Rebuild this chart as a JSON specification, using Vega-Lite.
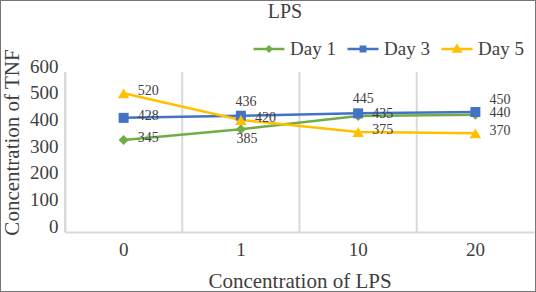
{
  "$schema": "https://vega.github.io/schema/vega-lite/v6.json",
  "width": 536,
  "height": 292,
  "autosize": {"type": "none"},
  "padding": 0,
  "background": "white",
  "config": {
    "view": {"stroke": "#767676", "strokeWidth": 2},
    "font": "Liberation Serif"
  },
  "title": {
    "text": "LPS",
    "font": "Liberation Serif",
    "fontSize": 20,
    "fontWeight": "normal",
    "color": "#404040",
    "anchor": "middle",
    "dx": 17,
    "dy": 18,
    "offset": -20,
    "baseline": "alphabetic"
  },
  "data": {
    "values": [
      {"cat": "0", "series": "Day 1", "value": 345},
      {"cat": "1", "series": "Day 1", "value": 385},
      {"cat": "10", "series": "Day 1", "value": 435},
      {"cat": "20", "series": "Day 1", "value": 440},
      {"cat": "0", "series": "Day 3", "value": 428},
      {"cat": "1", "series": "Day 3", "value": 436},
      {"cat": "10", "series": "Day 3", "value": 445},
      {"cat": "20", "series": "Day 3", "value": 450},
      {"cat": "0", "series": "Day 5", "value": 520},
      {"cat": "1", "series": "Day 5", "value": 420},
      {"cat": "10", "series": "Day 5", "value": 375},
      {"cat": "20", "series": "Day 5", "value": 370}
    ]
  },
  "encoding": {
    "x": {
      "field": "cat",
      "type": "ordinal",
      "sort": ["0", "1", "10", "20"],
      "scale": {"type": "band", "range": [65, 534], "paddingInner": 0, "paddingOuter": 0},
      "axis": {
        "title": "Concentration of LPS",
        "titleFont": "Liberation Serif",
        "titleFontSize": 21,
        "titleFontWeight": "normal",
        "titleColor": "#404040",
        "titleY": 55,
        "titleBaseline": "alphabetic",
        "labelFont": "Liberation Serif",
        "labelFontSize": 19,
        "labelColor": "#404040",
        "labelAngle": 0,
        "labelBaseline": "alphabetic",
        "labelPadding": 23,
        "ticks": false,
        "tickSize": 0,
        "domain": true,
        "domainColor": "#d9d9d9",
        "domainWidth": 2,
        "grid": false,
        "offset": -60
      }
    },
    "y": {
      "field": "value",
      "type": "quantitative",
      "scale": {"domain": [0, 600], "range": [232, 72], "nice": false, "zero": true},
      "axis": {
        "title": "Concentration of TNF",
        "values": [0, 100, 200, 300, 400, 500, 600],
        "titleFont": "Liberation Serif",
        "titleFontSize": 21,
        "titleFontWeight": "normal",
        "titleColor": "#404040",
        "titleX": -47,
        "titleY": 142,
        "titleAngle": 270,
        "titleAlign": "center",
        "titleBaseline": "alphabetic",
        "labelFont": "Liberation Serif",
        "labelFontSize": 19,
        "labelColor": "#404040",
        "labelPadding": 7,
        "labelOffset": -6,
        "labelFlush": false,
        "labelOverlap": false,
        "ticks": false,
        "tickSize": 0,
        "domain": true,
        "domainColor": "#d9d9d9",
        "domainWidth": 2,
        "grid": false,
        "offset": -65
      }
    }
  },
  "layer": [
    {
      "transform": [{"filter": "datum.series == 'Day 1'"}],
      "mark": {"type": "rule", "color": "#d9d9d9", "strokeWidth": 2},
      "encoding": {
        "x": {"field": "cat", "type": "ordinal", "sort": ["0", "1", "10", "20"], "bandPosition": 0},
        "y": {"datum": 0},
        "y2": {"datum": 600}
      }
    },
    {
      "mark": {"type": "line", "strokeWidth": 2.5},
      "encoding": {
        "color": {
          "field": "series",
          "type": "nominal",
          "scale": {"domain": ["Day 1", "Day 3", "Day 5"], "range": ["#70ad47", "#4472c4", "#ffc000"]},
          "legend": {
            "orient": "none",
            "legendX": 252,
            "legendY": 32,
            "direction": "horizontal",
            "title": null,
            "padding": 0,
            "labelFont": "Liberation Serif",
            "labelFontSize": 19,
            "labelColor": "#404040",
            "labelOffset": 4,
            "columnPadding": 6,
            "symbolSize": 961,
            "symbolStrokeWidth": 2.5,
            "encode": {
              "symbols": {
                "update": {
                  "shape": {"signal": "datum.value == 'Day 1' ? 'M-1,0L1,0M0,-0.15L0.15,0L0,0.15L-0.15,0Z' : datum.value == 'Day 3' ? 'M-1,0L1,0M-0.14,-0.14L0.14,-0.14L0.14,0.14L-0.14,0.14Z' : 'M-1,0L1,0M0,-0.21L0.21,0.16L-0.21,0.16Z'"},
                  "fill": {"signal": "scale('color', datum.value)"},
                  "stroke": {"signal": "scale('color', datum.value)"},
                  "strokeWidth": {"value": 2.5},
                  "size": {"value": 961},
                  "opacity": {"value": 1},
                  "fillOpacity": {"value": 1}
                }
              }
            }
          }
        }
      }
    },
    {
      "transform": [{"filter": "datum.series == 'Day 1'"}],
      "mark": {"type": "point", "filled": true, "opacity": 1, "shape": "diamond", "size": 100, "color": "#70ad47"}
    },
    {
      "transform": [{"filter": "datum.series == 'Day 3'"}],
      "mark": {"type": "point", "filled": true, "opacity": 1, "shape": "square", "size": 100, "color": "#4472c4"}
    },
    {
      "transform": [{"filter": "datum.series == 'Day 5'"}],
      "mark": {"type": "point", "filled": true, "opacity": 1, "shape": "triangle-up", "size": 130, "color": "#ffc000"}
    },
    {
      "transform": [{"filter": "(datum.series == 'Day 1' && datum.cat != '1') || (datum.series == 'Day 3' && datum.cat == '0') || datum.series == 'Day 5'"}],
      "mark": {"type": "text", "align": "left", "baseline": "middle", "dx": 14, "dy": -2, "font": "Liberation Serif", "fontSize": 14, "color": "#404040"},
      "encoding": {"text": {"field": "value", "type": "quantitative"}}
    },
    {
      "transform": [{"filter": "datum.series == 'Day 3' && (datum.cat == '1' || datum.cat == '10')"}],
      "mark": {"type": "text", "align": "center", "baseline": "middle", "dx": 5, "dy": -14, "font": "Liberation Serif", "fontSize": 14, "color": "#404040"},
      "encoding": {"text": {"field": "value", "type": "quantitative"}}
    },
    {
      "transform": [{"filter": "datum.series == 'Day 3' && datum.cat == '20'"}],
      "mark": {"type": "text", "align": "left", "baseline": "middle", "dx": 14, "dy": -12, "font": "Liberation Serif", "fontSize": 14, "color": "#404040"},
      "encoding": {"text": {"field": "value", "type": "quantitative"}}
    },
    {
      "transform": [{"filter": "datum.series == 'Day 1' && datum.cat == '1'"}],
      "mark": {"type": "text", "align": "center", "baseline": "middle", "dx": 6, "dy": 10, "font": "Liberation Serif", "fontSize": 14, "color": "#404040"},
      "encoding": {"text": {"field": "value", "type": "quantitative"}}
    }
  ]
}
